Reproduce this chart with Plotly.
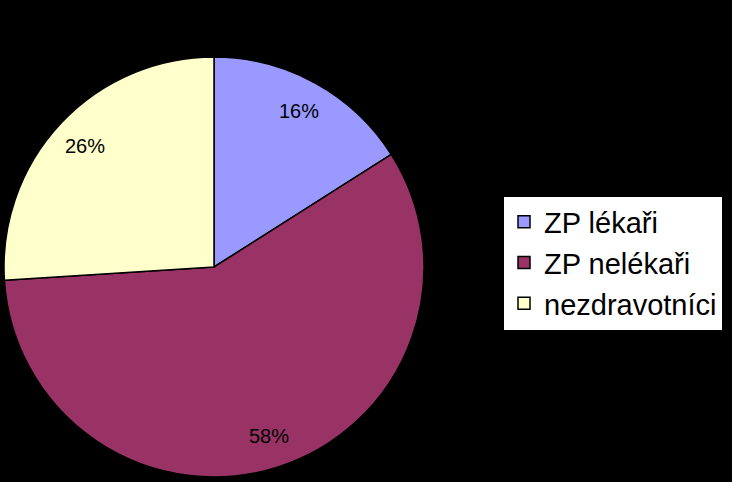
import math
import plotly.graph_objects as go

categories = ["ZP lékaři", "ZP nelékaři", "nezdravotníci"]
shares = [16, 58, 26]
colors = ["#9999FF", "#993366", "#FFFFCC"]

W, H = 732, 482
CX, CY, R = 214, 267, 210  # pie centre / radius in pixels

fig = go.Figure(
    go.Pie(
        labels=categories,
        values=shares,
        sort=False,
        direction="clockwise",
        rotation=0,
        marker=dict(colors=colors, line=dict(color="black", width=1.5)),
        textinfo="none",
        hoverinfo="label+percent",
        domain=dict(x=[(CX - R) / W, (CX + R) / W], y=[1 - (CY + R) / H, 1 - (CY - R) / H]),
    )
)

# percentage labels placed along each slice's mid-angle (like Excel's data labels)
total = sum(shares)
cum = 0
annotations = []
for v in shares:
    mid = math.radians(90 - 360 * (cum + v / 2) / total)
    cum += v
    px = CX + 0.845 * R * math.cos(mid)
    py = CY - 0.845 * R * math.sin(mid)
    annotations.append(
        dict(
            x=px / W,
            y=1 - py / H,
            xref="paper",
            yref="paper",
            xanchor="center",
            yanchor="middle",
            text=f"{round(100 * v / total)}%",
            showarrow=False,
            font=dict(family="Arial, Liberation Sans, sans-serif", size=20, color="black"),
        )
    )

fig.update_layout(
    width=W,
    height=H,
    paper_bgcolor="black",
    plot_bgcolor="black",
    margin=dict(l=0, r=0, t=0, b=0),
    showlegend=True,
    annotations=annotations,
    legend=dict(
        x=503 / W,
        y=1 - 263 / H,
        xanchor="left",
        yanchor="middle",
        bgcolor="white",
        bordercolor="black",
        borderwidth=1,
        font=dict(family="Arial, Liberation Sans, sans-serif", size=29, color="black"),
        traceorder="normal",
    ),
)

fig.write_html(
    "out.html",
    config={"displayModeBar": False},
    post_script="document.body.style.margin='0';document.body.style.background='black';",
)
